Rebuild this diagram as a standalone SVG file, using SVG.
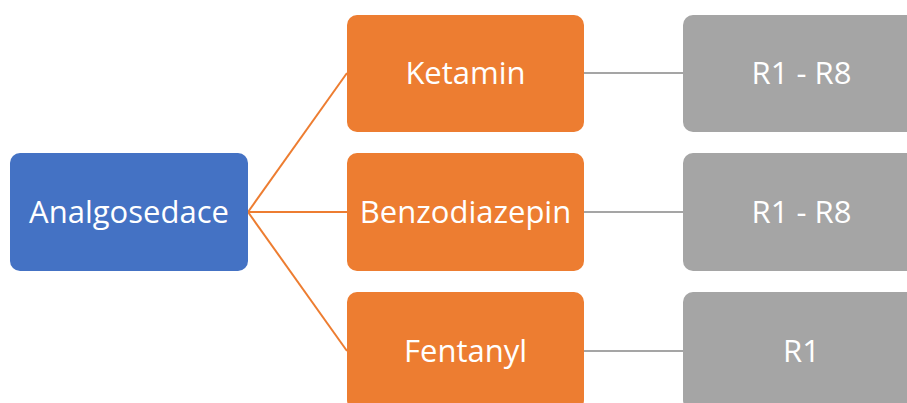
<svg xmlns="http://www.w3.org/2000/svg" width="907" height="403" viewBox="0 0 907 403">
  <style>
    .box { stroke: none; }
    .root { fill: #4472C4; }
    .drug { fill: #ED7D31; }
    .range { fill: #A5A5A5; }
    .label { font-family: "Open Sans", "Noto Sans", "DejaVu Sans", sans-serif; font-size: 31px; fill: #FFFFFF; text-anchor: middle; }
    .link-o { stroke: #ED7D31; stroke-width: 2; fill: none; }
    .link-g { stroke: #A5A5A5; stroke-width: 2; fill: none; }
  </style>
  <rect width="907" height="403" fill="#FFFFFF"/>

  <!-- connectors -->
  <g id="connectors">
    <line class="link-o" x1="248" y1="212" x2="347" y2="73"/>
    <line class="link-o" x1="248" y1="212" x2="347" y2="212"/>
    <line class="link-o" x1="248" y1="212" x2="347" y2="351"/>
    <line class="link-g" x1="584" y1="73" x2="683" y2="73"/>
    <line class="link-g" x1="584" y1="212" x2="683" y2="212"/>
    <line class="link-g" x1="584" y1="351" x2="683" y2="351"/>
  </g>

  <g id="analgosedace">
    <rect class="box root" x="10" y="153" width="238" height="118" rx="10"/>
    <text class="label" x="129" y="223">Analgosedace</text>
  </g>

  <g id="ketamin">
    <rect class="box drug" x="347" y="15" width="237" height="117" rx="10"/>
    <text class="label" x="465.5" y="84">Ketamin</text>
  </g>
  <g id="benzodiazepin">
    <rect class="box drug" x="347" y="153" width="237" height="118" rx="10"/>
    <text class="label" x="465.5" y="223">Benzodiazepin</text>
  </g>
  <g id="fentanyl">
    <rect class="box drug" x="347" y="292" width="237" height="118" rx="10"/>
    <text class="label" x="465.5" y="362">Fentanyl</text>
  </g>

  <g id="range-ketamin">
    <rect class="box range" x="683" y="15" width="237" height="117" rx="10"/>
    <text class="label" x="801.5" y="84">R1 - R8</text>
  </g>
  <g id="range-benzodiazepin">
    <rect class="box range" x="683" y="153" width="237" height="118" rx="10"/>
    <text class="label" x="801.5" y="223">R1 - R8</text>
  </g>
  <g id="range-fentanyl">
    <rect class="box range" x="683" y="292" width="237" height="118" rx="10"/>
    <text class="label" x="801.5" y="362">R1</text>
  </g>
</svg>
